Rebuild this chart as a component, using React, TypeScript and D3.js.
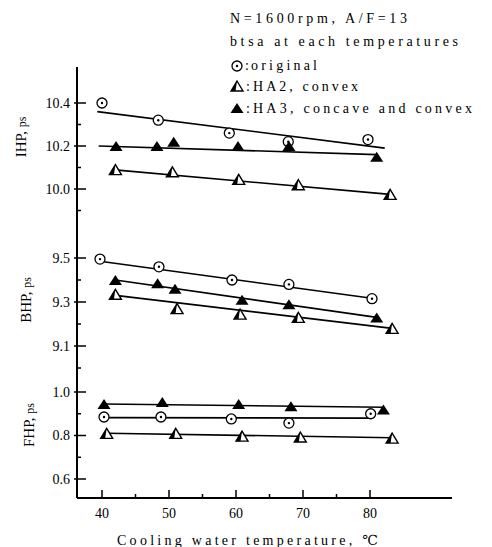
import React from 'react';
import * as d3 from 'd3';

// x axis
const xTicks = [40, 50, 60, 70, 80];
const xMinorTicks = [45, 55, 65, 75];

// y tick labels per panel
const ihpTicks = [10.0, 10.2, 10.4];
const ihpMinor = [9.9, 10.1, 10.3];
const bhpTicks = [9.1, 9.3, 9.5];
const bhpMinor = [9.0, 9.2, 9.4];
const fhpTicks = [0.6, 0.8, 1.0];
const fhpMinor = [0.7, 0.9];

// IHP
const ihpOriginalT = [40.0, 48.4, 59.0, 67.8, 79.7];
const ihpOriginal = [10.40, 10.32, 10.26, 10.22, 10.23];
const ihpHA2T = [42.0, 50.5, 60.4, 69.3, 83.0];
const ihpHA2 = [10.09, 10.08, 10.045, 10.02, 9.975];
const ihpHA3T = [42.1, 48.2, 50.7, 60.3, 67.9, 81.0];
const ihpHA3 = [10.20, 10.20, 10.22, 10.20, 10.20, 10.15];

// BHP
const bhpOriginalT = [39.7, 48.5, 59.4, 67.9, 80.3];
const bhpOriginal = [9.495, 9.46, 9.40, 9.38, 9.315];
const bhpHA2T = [42.0, 51.2, 60.6, 69.3, 83.3];
const bhpHA2 = [9.335, 9.27, 9.245, 9.23, 9.18];
const bhpHA3T = [42.0, 48.3, 50.9, 60.9, 67.9, 81.0];
const bhpHA3 = [9.40, 9.385, 9.36, 9.31, 9.29, 9.23];

// FHP
const fhpOriginalT = [40.3, 48.8, 59.3, 67.9, 80.1];
const fhpOriginal = [0.885, 0.885, 0.876, 0.857, 0.90];
const fhpHA2T = [40.7, 51.0, 60.9, 69.6, 83.3];
const fhpHA2 = [0.81, 0.81, 0.797, 0.793, 0.788];
const fhpHA3T = [40.3, 49.0, 60.4, 68.2, 82.0];
const fhpHA3 = [0.945, 0.954, 0.945, 0.935, 0.92];

// fitted lines: [start, end]
const ihpOriginalFitT = [39.3, 82.2];
const ihpOriginalFit = [10.36, 10.19];
const ihpHA2FitT = [41.5, 83.0];
const ihpHA2Fit = [10.09, 9.975];
const ihpHA3FitT = [39.5, 81.0];
const ihpHA3Fit = [10.20, 10.16];
const bhpOriginalFitT = [39.7, 80.0];
const bhpOriginalFit = [9.485, 9.318];
const bhpHA2FitT = [42.0, 83.3];
const bhpHA2Fit = [9.33, 9.18];
const bhpHA3FitT = [42.0, 81.0];
const bhpHA3Fit = [9.40, 9.23];
const fhpOriginalFitT = [40.3, 80.0];
const fhpOriginalFit = [0.882, 0.88];
const fhpHA2FitT = [40.7, 83.3];
const fhpHA2Fit = [0.81, 0.79];
const fhpHA3FitT = [40.3, 82.0];
const fhpHA3Fit = [0.945, 0.93];

const FONT = '"Liberation Serif", "DejaVu Serif", serif';

const x = d3.scaleLinear().domain([40, 80]).range([102, 370]);
const yIHP = d3.scaleLinear().domain([10.0, 10.4]).range([189, 103]);
const yBHP = d3.scaleLinear().domain([9.1, 9.5]).range([346, 258]);
const yFHP = d3.scaleLinear().domain([0.6, 1.0]).range([479, 392]);

const axisLeft = 77;
const axisTop = 67;
const axisBottom = 498;
const axisRight = 452;

const Circle = ({ cx, cy }: { cx: number; cy: number }) => (
  <g>
    <circle cx={cx} cy={cy} r={5} fill="#fff" stroke="#000" strokeWidth={1.3} />
    <circle cx={cx} cy={cy} r={1.2} fill="#000" />
  </g>
);

const triPath = (cx: number, cy: number, w: number, h: number) =>
  `M${cx - w / 2},${cy + h / 2}L${cx},${cy - h / 2}L${cx + w / 2},${cy + h / 2}Z`;

const OpenTri = ({ cx, cy }: { cx: number; cy: number }) => (
  <g>
    <path d={triPath(cx, cy, 12, 10)} fill="#fff" stroke="#000" strokeWidth={1.4} strokeLinejoin="miter" />
    <path d={`M${cx - 6},${cy + 5}L${cx},${cy - 5}L${cx - 1.5},${cy + 5}Z`} fill="#000" />
  </g>
);

const FilledTri = ({ cx, cy }: { cx: number; cy: number }) => (
  <path d={triPath(cx, cy, 13, 10)} fill="#000" />
);

type Series = { t: number[]; v: number[]; fitT: number[]; fit: number[]; kind: 'o' | 'a' | 'f' };

const panels = [
  {
    y: yIHP, ticks: ihpTicks, minor: ihpMinor, fmt: d3.format('.1f'),
    series: [
      { t: ihpOriginalT, v: ihpOriginal, fitT: ihpOriginalFitT, fit: ihpOriginalFit, kind: 'o' },
      { t: ihpHA3T, v: ihpHA3, fitT: ihpHA3FitT, fit: ihpHA3Fit, kind: 'f' },
      { t: ihpHA2T, v: ihpHA2, fitT: ihpHA2FitT, fit: ihpHA2Fit, kind: 'a' },
    ] as Series[],
  },
  {
    y: yBHP, ticks: bhpTicks, minor: bhpMinor, fmt: d3.format('.1f'),
    series: [
      { t: bhpOriginalT, v: bhpOriginal, fitT: bhpOriginalFitT, fit: bhpOriginalFit, kind: 'o' },
      { t: bhpHA3T, v: bhpHA3, fitT: bhpHA3FitT, fit: bhpHA3Fit, kind: 'f' },
      { t: bhpHA2T, v: bhpHA2, fitT: bhpHA2FitT, fit: bhpHA2Fit, kind: 'a' },
    ] as Series[],
  },
  {
    y: yFHP, ticks: fhpTicks, minor: fhpMinor, fmt: d3.format('.1f'),
    series: [
      { t: fhpHA3T, v: fhpHA3, fitT: fhpHA3FitT, fit: fhpHA3Fit, kind: 'f' },
      { t: fhpOriginalT, v: fhpOriginal, fitT: fhpOriginalFitT, fit: fhpOriginalFit, kind: 'o' },
      { t: fhpHA2T, v: fhpHA2, fitT: fhpHA2FitT, fit: fhpHA2Fit, kind: 'a' },
    ] as Series[],
  },
];

const Marker = ({ kind, cx, cy }: { kind: string; cx: number; cy: number }) =>
  kind === 'o' ? <Circle cx={cx} cy={cy} /> : kind === 'a' ? <OpenTri cx={cx} cy={cy} /> : <FilledTri cx={cx} cy={cy} />;

export default function App() {
  return (
    <svg width={492} height={547} style={{ position: 'absolute', left: 0, top: 0, background: '#fff' }} fontFamily={FONT}>
      <rect width={492} height={547} fill="#fff" />

      {/* legend */}
      <g fontSize={14} fill="#000">
        <text x={230} y={23} textLength={177} lengthAdjust="spacing">N=1600rpm, A/F=13</text>
        <text x={230} y={46} textLength={228} lengthAdjust="spacing">btsa at each temperatures</text>
        <Circle cx={237} cy={66} />
        <text x={245} y={70}>:</text>
        <text x={251} y={70} textLength={66} lengthAdjust="spacing">original</text>
        <OpenTri cx={237} cy={86} />
        <text x={246} y={91}>:</text>
        <text x={253} y={91} textLength={105} lengthAdjust="spacing">HA2, convex</text>
        <FilledTri cx={237} cy={108} />
        <text x={246} y={113}>:</text>
        <text x={253} y={113} textLength={219} lengthAdjust="spacing">HA3, concave and convex</text>
      </g>

      {/* axes */}
      <line x1={axisLeft} x2={axisLeft} y1={axisTop} y2={axisBottom} stroke="#000" strokeWidth={2} />
      <line x1={axisLeft} x2={axisRight} y1={axisBottom} y2={axisBottom} stroke="#000" strokeWidth={2} />

      {xTicks.map((t) => (
        <g key={t}>
          <line x1={x(t)} x2={x(t)} y1={axisBottom} y2={axisBottom - 8} stroke="#000" strokeWidth={1.5} />
          <text x={x(t)} y={518} textAnchor="middle" fontSize={14}>{t}</text>
        </g>
      ))}
      {xMinorTicks.map((t) => (
        <line key={t} x1={x(t)} x2={x(t)} y1={axisBottom} y2={axisBottom - 4} stroke="#000" strokeWidth={1.5} />
      ))}
      <text x={117} y={545} fontSize={14} textLength={261} lengthAdjust="spacing">Cooling water temperature, ℃</text>

      {panels.map((p, i) => (
        <g key={i}>
          {p.ticks.map((t) => (
            <g key={t}>
              <line x1={axisLeft - 3} x2={axisLeft + 9} y1={p.y(t)} y2={p.y(t)} stroke="#000" strokeWidth={1.5} />
              <text x={70} y={p.y(t)} dy="0.35em" textAnchor="end" fontSize={14}>{p.fmt(t)}</text>
            </g>
          ))}
          {p.minor.map((t) => (
            <line key={t} x1={axisLeft} x2={axisLeft + 4} y1={p.y(t)} y2={p.y(t)} stroke="#000" strokeWidth={1.5} />
          ))}
          {p.series.map((s, j) => (
            <line key={'f' + j} x1={x(s.fitT[0])} x2={x(s.fitT[1])} y1={p.y(s.fit[0])} y2={p.y(s.fit[1])} stroke="#000" strokeWidth={1.6} />
          ))}
          {p.series.map((s, j) => (
            <g key={'m' + j}>
              {s.t.map((t, k) => (
                <Marker key={k} kind={s.kind} cx={x(t)} cy={p.y(s.v[k])} />
              ))}
            </g>
          ))}
        </g>
      ))}

      {/* y labels */}
      <text transform="translate(26,137) rotate(-90)" textAnchor="middle" fontSize={15}>
        IHP, <tspan fontSize={12}>ps</tspan>
      </text>
      <text transform="translate(31,300) rotate(-90)" textAnchor="middle" fontSize={15}>
        BHP, <tspan fontSize={12}>ps</tspan>
      </text>
      <text transform="translate(34,425) rotate(-90)" textAnchor="middle" fontSize={15}>
        FHP, <tspan fontSize={12}>ps</tspan>
      </text>
    </svg>
  );
}
